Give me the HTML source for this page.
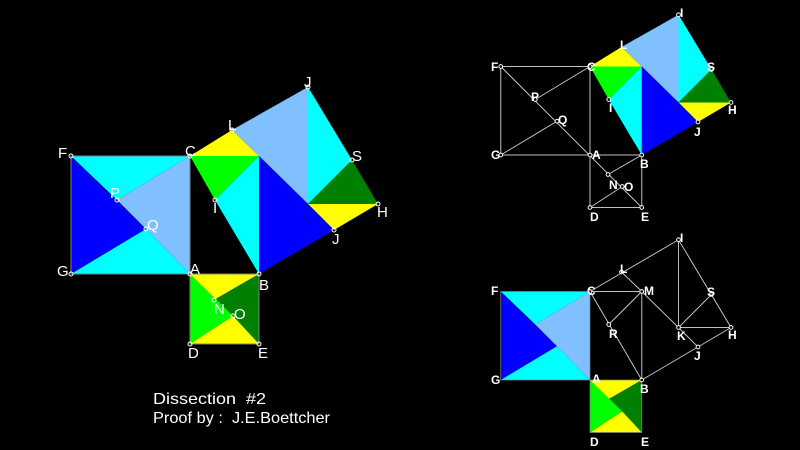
<!DOCTYPE html>
<html><head><meta charset="utf-8"><style>
html,body{margin:0;padding:0;background:#000;}
svg{display:block}
text{font-family:"Liberation Sans",Arial,sans-serif;fill:#fff}
.l{font-size:15px}
.r{font-size:12px;font-weight:bold}
</style></head><body>
<svg width="800" height="450" viewBox="0 0 800 450" xmlns="http://www.w3.org/2000/svg">
<defs>
<g id="leftsq">
<polygon points="71,156 190,156 117,200" fill="#00ffff"/>
<polygon points="71,156 146,229 71,274" fill="#0000ff"/>
<polygon points="190,156 190,274 146,229 117,200" fill="#80c0ff"/>
<polygon points="71,274 146,229 190,274" fill="#00ffff"/>
<polygon points="71,156 190,156 190,274 71,274" fill="none" stroke="#808080" stroke-width="1"/>
</g>
<g id="smallsq">
<polygon points="190,274 259,274 214,300" fill="#ffff00"/>
<polygon points="259,274 259,344 214,300" fill="#008000"/>
<polygon points="190,274 233,316 190,344" fill="#00ff00"/>
<polygon points="190,344 233,316 259,344" fill="#ffff00"/>
<polygon points="190,274 259,274 259,344 190,344" fill="none" stroke="#808080" stroke-width="1"/>
</g>
<g id="hyp">
<polygon points="190,156 232,130 259,156" fill="#ffff00"/>
<polygon points="232,130 308,87 308,204 259,156" fill="#80c0ff"/>
<polygon points="308,87 352,160 308,204" fill="#00ffff"/>
<polygon points="352,160 378,204 308,204" fill="#008000"/>
<polygon points="308,204 378,204 334,230" fill="#ffff00"/>
<polygon points="259,156 308,204 334,230 259,274" fill="#0000ff"/>
<polygon points="190,156 259,156 215,200" fill="#00ff00"/>
<polygon points="215,200 259,156 259,274" fill="#00ffff"/>
</g>
</defs>

<use href="#leftsq"/>
<use href="#smallsq"/>
<use href="#hyp"/>
<g fill="none" stroke="#fff" stroke-width="1">
<circle cx="71" cy="156" r="2"/><circle cx="190" cy="156" r="2"/><circle cx="71" cy="274" r="2"/><circle cx="190" cy="274" r="2"/>
<circle cx="259" cy="274" r="2"/><circle cx="190" cy="344" r="2"/><circle cx="259" cy="344" r="2"/>
<circle cx="117" cy="200" r="2"/><circle cx="146" cy="229" r="2"/><circle cx="214" cy="300" r="2"/><circle cx="233" cy="316" r="2"/>
<circle cx="232" cy="130" r="2"/><circle cx="308" cy="87" r="2"/><circle cx="352" cy="160" r="2"/><circle cx="378" cy="204" r="2"/><circle cx="334" cy="230" r="2"/><circle cx="215" cy="200" r="2"/>
</g>
<g class="l">
<text x="58" y="158">F</text><text x="185" y="156">C</text><text x="228" y="130">L</text><text x="304" y="87">J</text>
<text x="352" y="161">S</text><text x="377" y="217">H</text><text x="332" y="244">J</text>
<text x="110" y="198">P</text><text x="147" y="230">Q</text><text x="213" y="213">I</text>
<text x="57" y="276">G</text><text x="190" y="274">A</text><text x="259" y="290">B</text>
<text x="214" y="314">N</text><text x="234" y="319">O</text><text x="188" y="358">D</text><text x="258" y="358">E</text>
</g>
<text x="153" y="404" style="font-size:16px" textLength="113" lengthAdjust="spacingAndGlyphs" xml:space="preserve">Dissection  #2</text>
<text x="153" y="423" style="font-size:16px" textLength="177" lengthAdjust="spacingAndGlyphs" xml:space="preserve">Proof by :  J.E.Boettcher</text>

<g transform="translate(590,155) scale(0.75) translate(-190,-274)">
<use href="#hyp"/>
<g fill="none" stroke="#c0c0c0" stroke-width="1.33">
<polygon points="71,156 190,156 190,274 71,274"/>
<line x1="71" y1="156" x2="259" y2="344"/>
<line x1="190" y1="156" x2="117" y2="200"/>
<line x1="71" y1="274" x2="146" y2="229"/>
<polygon points="190,274 259,274 259,344 190,344"/>
<line x1="259" y1="274" x2="214" y2="300"/>
<line x1="190" y1="344" x2="233" y2="316"/>
</g>
<g fill="#000" stroke="#fff" stroke-width="1.33">
<circle cx="71" cy="156" r="2.5"/><circle cx="190" cy="156" r="2.5"/><circle cx="71" cy="274" r="2.5"/><circle cx="190" cy="274" r="2.5"/>
<circle cx="259" cy="274" r="2.5"/><circle cx="190" cy="344" r="2.5"/><circle cx="259" cy="344" r="2.5"/>
<circle cx="117" cy="200" r="2.5"/><circle cx="146" cy="229" r="2.5"/><circle cx="214" cy="300" r="2.5"/><circle cx="233" cy="316" r="2.5"/>
<circle cx="308" cy="87" r="2.5"/><circle cx="378" cy="204" r="2.5"/><circle cx="334" cy="230" r="2.5"/><circle cx="215" cy="200" r="2.5"/><circle cx="352" cy="160" r="2.5"/>
</g>
</g>
<g class="r">
<text x="491" y="71">F</text><text x="587" y="71">C</text><text x="531" y="101">P</text><text x="558" y="124">Q</text>
<text x="491" y="159">G</text><text x="592" y="159">A</text><text x="640" y="168">B</text><text x="609" y="189">N</text><text x="624" y="191">O</text>
<text x="590" y="221">D</text><text x="641" y="221">E</text><text x="620" y="49">L</text><text x="680" y="17">I</text>
<text x="707" y="71">S</text><text x="728" y="114">H</text><text x="694" y="136">J</text><text x="609" y="112">I</text>
</g>

<g transform="translate(590,380) scale(0.75) translate(-190,-274)">
<use href="#leftsq"/>
<use href="#smallsq"/>
<g fill="none" stroke="#c0c0c0" stroke-width="1.33">
<polygon points="190,156 308,87 378,204 259,274"/>
<line x1="190" y1="156" x2="259" y2="156"/>
<line x1="232" y1="130" x2="259" y2="156"/>
<line x1="259" y1="156" x2="259" y2="274"/>
<line x1="259" y1="156" x2="215" y2="200"/>
<line x1="259" y1="156" x2="308" y2="204"/>
<line x1="308" y1="87" x2="308" y2="204"/>
<line x1="308" y1="204" x2="352" y2="160"/>
<line x1="308" y1="204" x2="378" y2="204"/>
<line x1="308" y1="204" x2="334" y2="230"/>
</g>
<g fill="#000" stroke="#fff" stroke-width="1.33">
<circle cx="232" cy="130" r="2.5"/><circle cx="308" cy="87" r="2.5"/><circle cx="259" cy="156" r="2.5"/><circle cx="352" cy="160" r="2.5"/>
<circle cx="215" cy="200" r="2.5"/><circle cx="308" cy="204" r="2.5"/><circle cx="378" cy="204" r="2.5"/><circle cx="334" cy="230" r="2.5"/>
<circle cx="190" cy="156" r="2.5"/><circle cx="259" cy="274" r="2.5"/>
</g>
</g>
<g class="r">
<text x="491" y="295">F</text><text x="587" y="295">C</text><text x="620" y="273">L</text><text x="680" y="242">I</text>
<text x="644" y="295">M</text><text x="707" y="296">S</text><text x="609" y="338">R</text><text x="677" y="340">K</text>
<text x="728" y="339">H</text><text x="694" y="360">J</text>
<text x="491" y="384">G</text><text x="592" y="383">A</text><text x="640" y="393">B</text><text x="590" y="446">D</text><text x="641" y="446">E</text>
</g>
</svg>
</body></html>
